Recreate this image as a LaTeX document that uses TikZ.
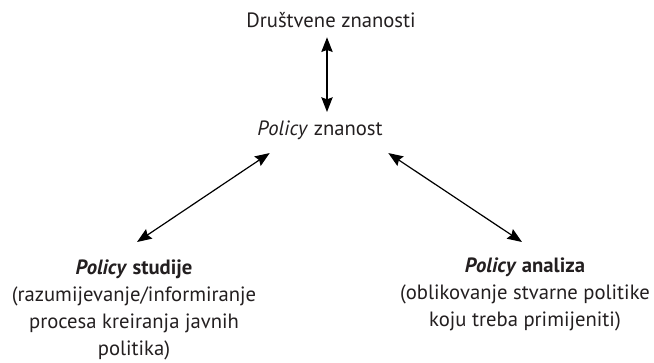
\documentclass[tikz,border=0pt]{standalone}
\usepackage{fontspec}
\setmainfont{PT Sans}
\usetikzlibrary{positioning, arrows.meta}
\definecolor{txtgray}{HTML}{231F20}

\begin{document}
\begin{tikzpicture}[x=0.75pt,y=-0.75pt,<->,>={Stealth[length=11pt,width=8.5pt,inset=1.5pt]},line width=0.9pt,
    every node/.style={font=\fontsize{15.5}{20.3}\selectfont,text=txtgray,inner sep=0pt}]
      \useasboundingbox (0,0) rectangle (654,362);
      \node (drus) at (331,20) {Društvene znanosti};
      \node (pz) at (320,130) {\textit{Policy} znanost};
      \node[align=center,anchor=north] (stud) at (134,259) {\textbf{\textit{Policy} studije}\\(razumijevanje/informiranje\\procesa kreiranja javnih\\politika)};
      \node[align=center,anchor=north] (anal) at (525,257) {\textbf{\textit{Policy} analiza}\\(oblikovanje stvarne politike\\koju treba primijeniti)};

      \draw ([shift={(-4,9)}]drus.south) -- ([shift={(7,-8)}]pz.north);
      \draw ([shift={(13,13)}]pz.south west) -- ([shift={(3,-17)}]stud.north);
      \draw ([shift={(5,13)}]pz.south east) -- ([shift={(-3,-15)}]anal.north);
    \end{tikzpicture}
\end{document}
